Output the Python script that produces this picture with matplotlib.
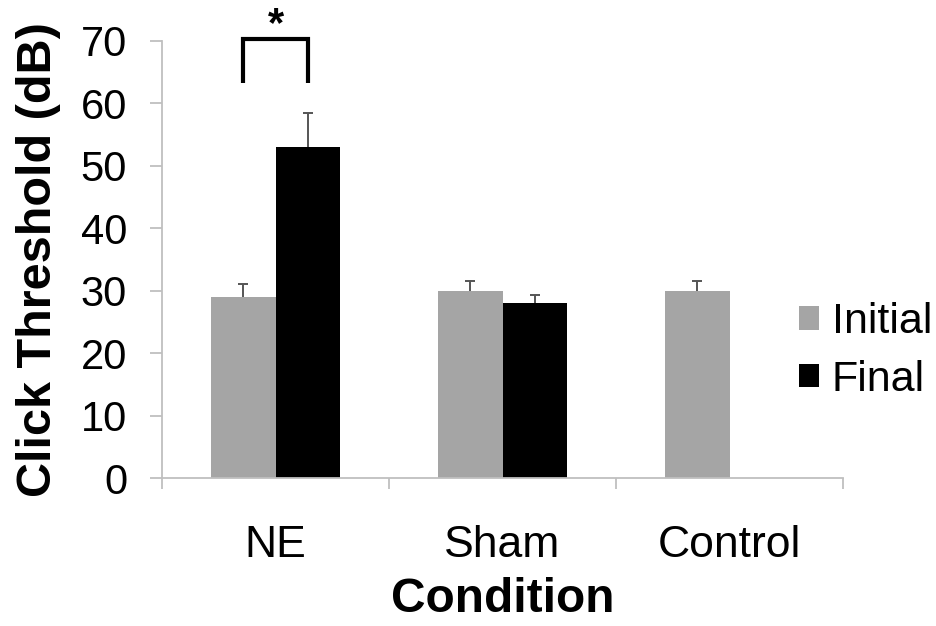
import matplotlib
matplotlib.use("Agg")
import matplotlib.pyplot as plt
import numpy as np
from matplotlib.patches import Patch

plt.rcParams['font.family'] = ['Liberation Sans', 'DejaVu Sans']

categories = ["NE", "Sham", "Control"]
initial_vals = [29.0, 30.0, 30.0]
initial_err = [2.0, 1.6, 1.6]
final_vals = [53.0, 28.0]
final_err = [5.4, 1.3]
y_ticks = [0, 10, 20, 30, 40, 50, 60, 70]
series_names = ["Initial", "Final"]
sig_label = "*"

gray = "#a5a5a5"
axis_col = "#bfbfbf"
err_col = "#555555"

fig = plt.figure(figsize=(9.37, 6.26), dpi=100)
ax = fig.add_axes([0.1729, 0.2364, 0.7268, 0.6986])

x = np.arange(len(categories))
w = 0.286
xi = x - w / 2
xf = x[:len(final_vals)] + w / 2

ek = dict(ecolor=err_col, elinewidth=1.4, capsize=3.3, capthick=1.4)
b1 = ax.bar(xi, initial_vals, w, color=gray,
            yerr=[np.zeros(len(initial_vals)), initial_err], error_kw=ek)
b2 = ax.bar(xf, final_vals, w, color="black",
            yerr=[np.zeros(len(final_vals)), final_err], error_kw=ek)
for b in (b1, b2):
    caps = b.errorbar.lines[1]
    if len(caps) > 1:
        caps[0].set_visible(False)

ax.set_xlim(-0.5, len(categories) - 0.5)
ax.set_ylim(0, 70)
ax.set_yticks(y_ticks)
ax.set_yticklabels([str(v) for v in y_ticks], fontsize=30)
ax.set_xticks(x)
ax.set_xticklabels(categories, fontsize=32)
ax.set_xticks(np.arange(len(categories) + 1) - 0.5, minor=True)

for s in ["top", "right"]:
    ax.spines[s].set_visible(False)
for s in ["left", "bottom"]:
    ax.spines[s].set_color(axis_col)
    ax.spines[s].set_linewidth(1.3)

ax.tick_params(axis='y', direction='out', length=8.6, width=1.3, color=axis_col, pad=16.5)
ax.tick_params(axis='x', which='major', length=0, pad=34)
ax.tick_params(axis='x', which='minor', direction='out', length=8, width=1.3, color=axis_col)

ax.set_xlabel("Condition", fontsize=34.5, fontweight='bold', labelpad=8)
ax.set_ylabel("Click Threshold (dB)", fontsize=35, fontweight='bold', labelpad=14)

# significance bracket between NE bars
ax.plot([xi[0], xi[0], xf[0], xf[0]], [63.3, 70.3, 70.3, 63.3], color="black",
        lw=3, clip_on=False, solid_joinstyle='miter', solid_capstyle='butt')
ax.text(x[0], 70.8, sig_label, ha='center', va='baseline', fontsize=30,
        fontweight='bold', clip_on=False)

handles = [Patch(facecolor=gray, edgecolor='none'), Patch(facecolor='black', edgecolor='none')]
fig.legend(handles, series_names, loc='center left',
           bbox_to_anchor=(799 / 937, 1 - 351 / 626), fontsize=31, frameon=False,
           handlelength=0.46, handleheight=0.46, handletextpad=0.3,
           labelspacing=0.4, borderpad=0, borderaxespad=0)

fig.savefig("out.png", dpi=100)
